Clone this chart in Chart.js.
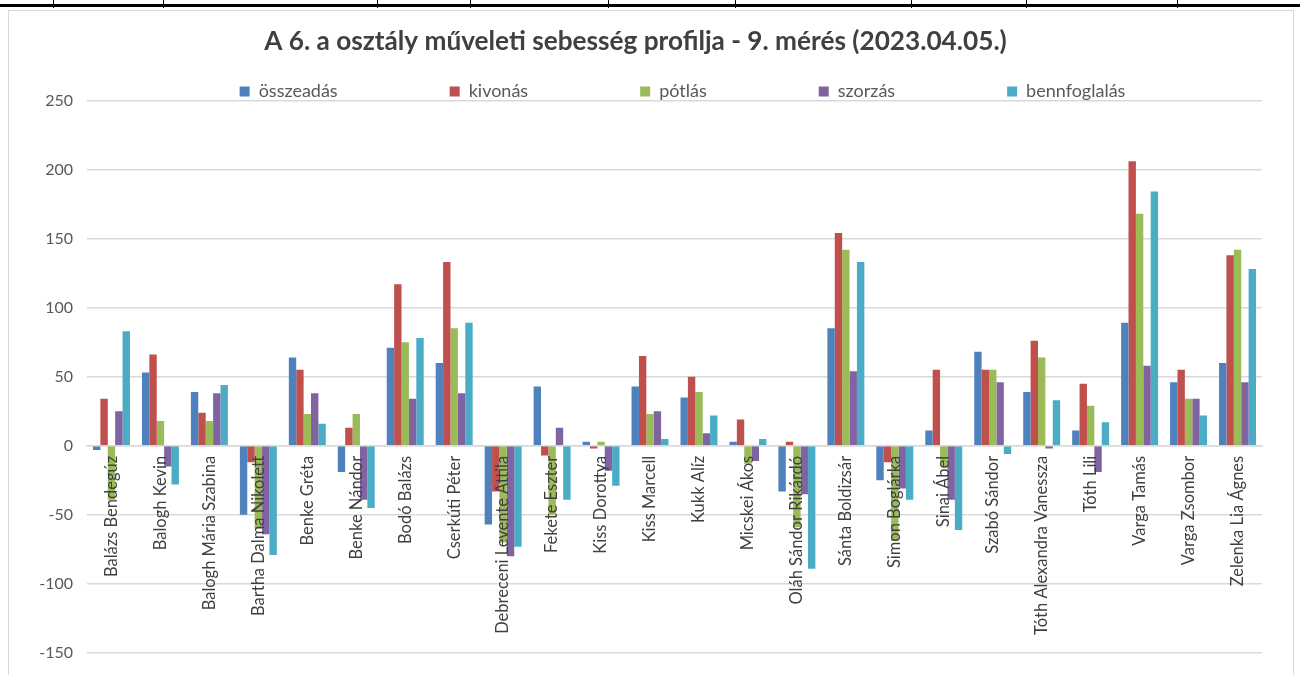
<!DOCTYPE html>
<html>
<head>
<meta charset="utf-8">
<script src="https://cdn.jsdelivr.net/npm/chart.js@4"></script>
<style>
    body { margin: 0; background: #fff; overflow: hidden; }
    .topline { position: absolute; left: 0; top: 4px; width: 1300px; height: 3px; background: #000; }
    .tick { position: absolute; top: 0; width: 1px; height: 8px; background: #000; }
    .frame { position: absolute; left: 8px; top: 10px; width: 1284px; height: 720px; border: 1px solid #d9d9d9; }
    #wrap { position: absolute; left: 9px; top: 11px; width: 1283px; height: 700px; }
</style>
</head>
<body>
<div class="topline"></div>
<div class="tick" style="left:53px"></div>
<div class="tick" style="left:163px"></div>
<div class="tick" style="left:377px"></div>
<div class="tick" style="left:470px"></div>
<div class="tick" style="left:608px"></div>
<div class="tick" style="left:735px"></div>
<div class="tick" style="left:911px"></div>
<div class="tick" style="left:1026px"></div>
<div class="tick" style="left:1177px"></div>
<div class="frame"></div>
<div id="wrap"><canvas id="speedChart"></canvas></div>
<script>
const students = ["Balázs Bendegúz", "Balogh Kevin", "Balogh Mária Szabina", "Bartha Dalma Nikolett",
    "Benke Gréta", "Benke Nándor", "Bodó Balázs", "Cserkúti Péter", "Debreceni Levente Attila",
    "Fekete Eszter", "Kiss Dorottya", "Kiss Marcell", "Kukk Alíz", "Micskei Ákos",
    "Oláh Sándor Rikárdó", "Sánta Boldizsár", "Simon Boglárka", "Sinai Ábel", "Szabó Sándor",
    "Tóth Alexandra Vanessza", "Tóth Lili", "Varga Tamás", "Varga Zsombor", "Zelenka Lia Ágnes"];

const osszeadas = [-3, 53, 39, -50, 64, -19, 71, 60, -57, 43, 3, 43, 35, 3, -33, 85, -25, 11, 68, 39, 11, 89, 46, 60];
const kivonas = [34, 66, 24, -12, 55, 13, 117, 133, -33, -7, -2, 65, 50, 19, 3, 154, -12, 55, 55, 76, 45, 206, 55, 138];
const potlas = [-39, 18, 18, -60, 23, 23, 75, 85, -70, -50, 3, 23, 39, -13, -59, 142, -69, -15, 55, 64, 29, 168, 34, 142];
const szorzas = [25, -15, 38, -64, 38, -39, 34, 38, -80, 13, -18, 25, 9, -11, -35, 54, -31, -39, 46, -2, -19, 58, 34, 46];
const bennfoglalas = [83, -28, 44, -79, 16, -45, 78, 89, -73, -39, -29, 5, 22, 5, -89, 133, -39, -61, -6, 33, 17, 184, 22, 128];

const yTicks = [-150, -100, -50, 0, 50, 100, 150, 200, 250];

// legend padding is wanted only as horizontal gap, so drop the vertical part it adds
const LEGEND_GAP = 112;
const LEGEND_SHIFT = 8;
const legendTrim = {
    id: 'legendTrim',
    beforeLayout(chart) {
        const lg = chart.legend;
        if (!lg || lg._trimmed) return;
        lg._trimmed = true;
        const fit = lg.fit;
        lg.fit = function () { fit.call(this); this.height -= LEGEND_GAP; };
        const draw = lg.draw;
        lg.draw = function () {
            const { top, left, right } = this;
            this.top = top - (LEGEND_GAP - 10);
            this.left = left + LEGEND_SHIFT;
            this.right = right + LEGEND_SHIFT;
            draw.call(this);
            Object.assign(this, { top, left, right });
        };
    }
};

function ds(label, data, color) {
    return { label: label, data: data, backgroundColor: color, borderWidth: 0 };
}

const ctx = document.getElementById('speedChart').getContext('2d');
new Chart(ctx, {
    type: 'bar',
    data: {
        labels: students,
        datasets: [
            ds('összeadás', osszeadas, '#4f81bd'),
            ds('kivonás', kivonas, '#c0504d'),
            ds('pótlás', potlas, '#9bbb59'),
            ds('szorzás', szorzas, '#8064a2'),
            ds('bennfoglalás', bennfoglalas, '#4bacc6')
        ]
    },
    plugins: [legendTrim],
    options: {
        responsive: true,
        maintainAspectRatio: false,
        animation: false,
        datasets: { bar: { categoryPercentage: 0.755, barPercentage: 1 } },
        layout: { padding: { left: 0, right: 30, top: 0, bottom: 58 } },
        plugins: {
            title: {
                display: true,
                text: 'A 6. a osztály műveleti sebesség profilja - 9. mérés (2023.04.05.)',
                color: '#404040',
                font: { family: 'Lato', size: 26.2, weight: 'bold' },
                padding: { top: 15, bottom: 15 }
            },
            legend: {
                position: 'top',
                fullSize: false,
                labels: {
                    boxWidth: 10, boxHeight: 10,
                    color: '#595959',
                    padding: LEGEND_GAP,
                    font: { family: 'Lato', size: 18 }
                }
            },
            tooltip: { enabled: false }
        },
        scales: {
            x: {
                position: { y: 0 },
                afterFit: s => { s.height = 0; },
                grid: { display: false, drawTicks: false },
                border: { color: '#d9d9d9', width: 1.5 },
                ticks: {
                    z: 1,
                    autoSkip: false, maxRotation: 90, minRotation: 90,
                    color: '#404040', padding: 10,
                    font: { family: 'Lato', size: 16.5 }
                }
            },
            y: {
                min: -150, max: 250,
                afterBuildTicks: s => { s.ticks = yTicks.map(v => ({ value: v })); },
                afterFit: s => { s.width = 78; },
                grid: { color: '#d9d9d9', lineWidth: 1.5, drawTicks: false },
                border: { display: false },
                ticks: { color: '#595959', padding: 14, font: { family: 'Lato', size: 16 } }
            }
        }
    }
});
</script>
</body>
</html>
